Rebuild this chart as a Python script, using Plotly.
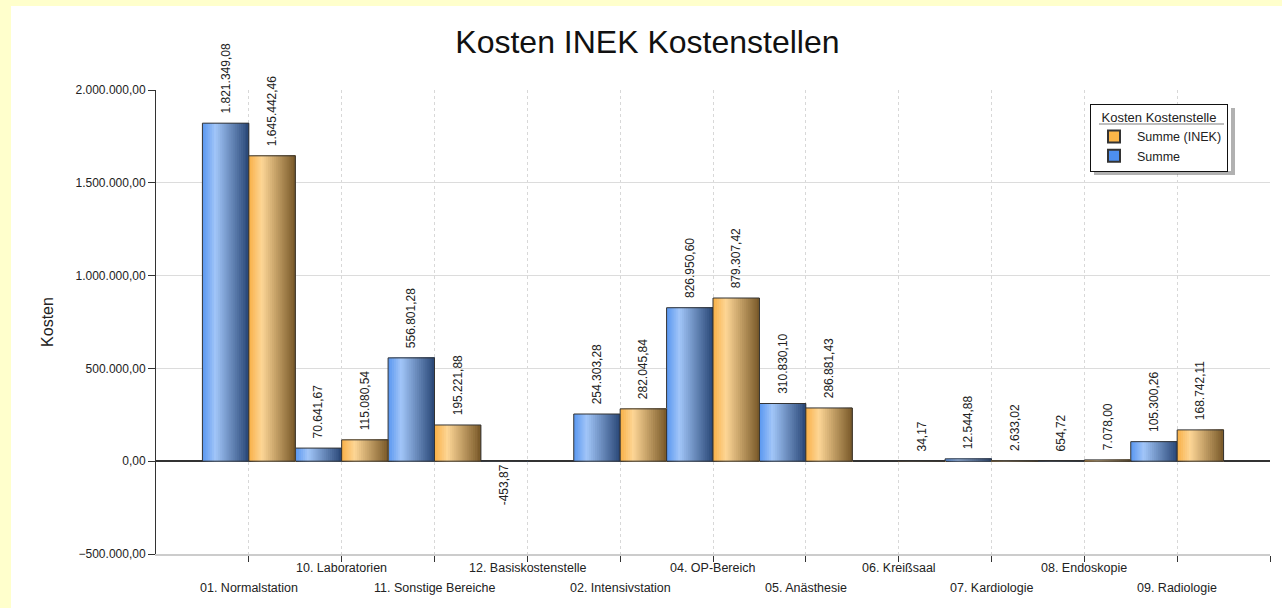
"""Kosten INEK Kostenstellen - grouped bar chart."""

import plotly.graph_objects as go


CATEGORIES = [
    "01. Normalstation",
    "10. Laboratorien",
    "11. Sonstige Bereiche",
    "12. Basiskostenstelle",
    "02. Intensivstation",
    "04. OP-Bereich",
    "05. Anästhesie",
    "06. Kreißsaal",
    "07. Kardiologie",
    "08. Endoskopie",
    "09. Radiologie",
]
SUMME = [
    1821349.08, 70641.67, 556801.28, -453.87, 254303.28, 826950.60,
    310830.10, None, 12544.88, 654.72, 105300.26,
]
SUMME_INEK = [
    1645442.46, 115080.54, 195221.88, None, 282045.84, 879307.42,
    286881.43, 34.17, 2633.02, 7078.00, 168742.11,
]

FONT = "Arial, Liberation Sans, sans-serif"
TEXT_COLOR = "#222222"
OUTLINE_COLOR = "#333333"
FRAME_COLOR = "#FFFFCC"
BLUE = "#4d8ff0"
ORANGE = "#fbb548"
# gradient stops (position, rgb) for the cylinder look
BLUE_STOPS = [(0.0, (88, 150, 240)), (0.28, (162, 198, 248)), (1.0, (40, 70, 118))]
ORANGE_STOPS = [(0.0, (248, 176, 70)), (0.28, (253, 214, 150)), (1.0, (120, 88, 40))]
STRIPS = 24
BAR_WIDTH = 0.5

# plot area in pixels (figure is 1282 x 608)
PLOT_L, PLOT_R, PLOT_T, PLOT_B = 156, 1270, 90, 554
# legend box in pixels
LEG_L, LEG_T, LEG_R, LEG_B = 1090, 104, 1231, 171


def _px(x, y):
    """Pixel position -> paper coordinates."""
    return (x - PLOT_L) / (PLOT_R - PLOT_L), (PLOT_B - y) / (PLOT_B - PLOT_T)


def _paper_rect(fig, x0, y0, x1, y1, **kwargs):
    px0, py0 = _px(x0, y0)
    px1, py1 = _px(x1, y1)
    fig.add_shape(type="rect", xref="paper", yref="paper",
                  x0=px0, y0=py1, x1=px1, y1=py0, **kwargs)


def _shade(stops, t):
    for (p0, c0), (p1, c1) in zip(stops, stops[1:]):
        if p0 <= t <= p1:
            f = (t - p0) / (p1 - p0)
            r, g, b = (round(a + (bb - a) * f) for a, bb in zip(c0, c1))
            return f"rgb({r},{g},{b})"
    r, g, b = stops[-1][1]
    return f"rgb({r},{g},{b})"


def _add_series(fig, values, name, start, stops, swatch):
    x = list(range(len(CATEGORIES)))
    step = BAR_WIDTH / STRIPS
    # each strip runs to the bar's right edge so later strips cover the seams
    for i in range(STRIPS):
        fig.add_trace(go.Bar(
            x=x, y=values, width=BAR_WIDTH - i * step, offset=start + i * step,
            marker={"color": _shade(stops, (i + 0.5) / STRIPS), "line": {"width": 0}},
            showlegend=False, hoverinfo="skip",
        ))
    fig.add_trace(go.Bar(
        x=x, y=values, width=BAR_WIDTH, offset=start, name=name,
        marker={"color": "rgba(0,0,0,0)", "line": {"color": OUTLINE_COLOR, "width": 1}},
        text=values, texttemplate="\u00a0\u00a0%{y:,.2f}", textposition="outside",
        textangle=-90, cliponaxis=False, constraintext="none", showlegend=False,
        textfont={"family": FONT, "size": 12, "color": TEXT_COLOR},
    ))
    # legend entry only
    fig.add_trace(go.Bar(
        x=[None], y=[None], name=name,
        marker={"color": swatch, "line": {"color": OUTLINE_COLOR, "width": 1}},
    ))


fig = go.Figure()
_add_series(fig, SUMME, "Summe", -BAR_WIDTH, BLUE_STOPS, BLUE)
_add_series(fig, SUMME_INEK, "Summe (INEK)", 0.0, ORANGE_STOPS, ORANGE)

for i, label in enumerate(CATEGORIES):
    fig.add_annotation(
        x=i, y=0, xref="x", yref="paper", text=label, showarrow=False,
        yanchor="top", yshift=-5 if i % 2 else -25,
        font={"family": FONT, "size": 12.5, "color": TEXT_COLOR},
    )

# white card on the yellow frame
_paper_rect(fig, 11, 6, 1300, 620, layer="below",
            fillcolor="white", line={"width": 0})
# legend box: shadow, white face, underline below the title
_paper_rect(fig, LEG_L + 4, LEG_T + 4, LEG_R + 4, LEG_B + 4, layer="above",
            fillcolor="rgba(60,60,60,0.4)", line={"width": 0})
_paper_rect(fig, LEG_L, LEG_T, LEG_R, LEG_B, layer="above",
            fillcolor="white", line={"width": 0})
ux0, uy = _px(LEG_L + 9, 124)
ux1, _ = _px(LEG_R - 7, 124)
fig.add_shape(type="line", xref="paper", yref="paper", layer="above",
              x0=ux0, x1=ux1, y0=uy, y1=uy,
              line={"color": "#a8a8a8", "width": 1.5})

lx, ly = _px(LEG_L, LEG_T)
fig.update_layout(
    width=1282,
    height=608,
    barmode="overlay",
    separators=",.",
    paper_bgcolor=FRAME_COLOR,
    plot_bgcolor="white",
    font={"family": FONT, "size": 12, "color": TEXT_COLOR},
    margin={"l": PLOT_L, "r": 1282 - PLOT_R, "t": PLOT_T, "b": 608 - PLOT_B},
    title={
        "text": "Kosten INEK Kostenstellen",
        "x": 0.505, "xref": "container", "xanchor": "center",
        "y": 0.931, "yref": "container", "yanchor": "middle",
        "font": {"family": FONT, "size": 32, "color": "#111111"},
    },
    legend={
        "x": lx, "y": ly, "xanchor": "left", "yanchor": "top",
        "bgcolor": "rgba(0,0,0,0)", "bordercolor": "#111111", "borderwidth": 1,
        "traceorder": "reversed",
        "title": {"text": "Kosten Kostenstelle", "side": "top center",
                  "font": {"family": FONT, "size": 13, "color": TEXT_COLOR}},
        "font": {"family": FONT, "size": 12.5, "color": TEXT_COLOR},
        "itemsizing": "constant",
        "itemwidth": 36,
        "tracegroupgap": 0,
    },
    showlegend=True,
)
fig.update_xaxes(
    range=[-1, 11],
    tickvals=list(range(len(CATEGORIES) + 1)),
    showticklabels=False,
    ticks="outside", ticklen=6, tickcolor=OUTLINE_COLOR,
    showgrid=True, gridcolor="#d8d8d8", griddash="dot",
    showline=True, linecolor="#cccccc", linewidth=2,
    zeroline=False,
)
fig.update_yaxes(
    range=[-500000, 2000000],
    dtick=500000,
    tickformat=",.2f",
    tickfont={"family": FONT, "size": 12, "color": TEXT_COLOR},
    ticks="outside", ticklen=7, tickcolor=OUTLINE_COLOR,
    showgrid=True, gridcolor="#dcdcdc",
    showline=True, linecolor=OUTLINE_COLOR, linewidth=1,
    zeroline=True, zerolinecolor=OUTLINE_COLOR, zerolinewidth=1.5,
    title={"text": "Kosten", "standoff": 17,
           "font": {"family": FONT, "size": 16, "color": TEXT_COLOR}},
)

fig.write_html(
    "out.html",
    config={"displayModeBar": False},
    post_script="document.body.style.margin = '0';",
)
